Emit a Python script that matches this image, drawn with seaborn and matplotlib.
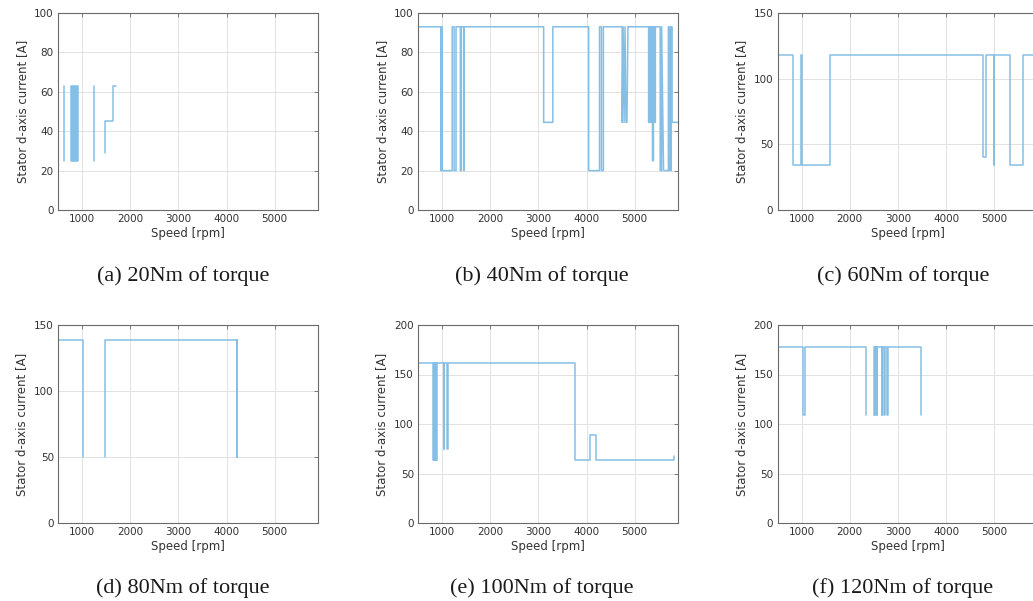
import numpy as np
import pandas as pd
import matplotlib
matplotlib.use("Agg")
import matplotlib.pyplot as plt
import seaborn as sns

nan = np.nan

# ---- data (speed [rpm], stator d-axis current [A]); NaN separates line pieces ----
speed_20 = [625, 625, nan,
            780, 780, 800, 800, 820, 820, 840, 840, 860, 860, 880, 880, 900, 900, 920, 920, nan,
            1245, 1245, nan,
            1480, 1480, 1650, 1650, 1700]
current_20 = [63, 25, nan,
              63, 25, 25, 63, 63, 25, 25, 63, 63, 25, 25, 63, 63, 25, 25, 63, nan,
              63, 25, nan,
              29, 45, 45, 63, 63]

speed_40 = [500, 975, 975, 990, 990, 1000, 1000, 1210, 1210, 1250, 1250, 1290, 1290,
            1380, 1380, 1400, 1400, 1450, 1450, 1460, 1460,
            3110, 3110, 3300, 3300, 4045, 4045, 4270, 4270, 4310, 4310, 4350, 4350,
            4740, 4740, 4760, 4780, 4800, 4820, 4840, 4860, 4876,
            5290, 5290, 5310, 5310, 5330, 5330, 5350, 5350, 5370, 5370, 5390, 5390, 5410, 5410, 5430, 5430,
            5530, 5530, 5560, 5560, 5600, 5700, 5700, 5730, 5730, 5760, 5760, 5777, 5777, 5900]
current_40 = [93, 93, 20, 20, 93, 93, 20, 20, 93, 93, 20, 20, 93,
              93, 20, 20, 93, 93, 20, 20, 93,
              93, 44.5, 44.5, 93, 93, 20, 20, 93, 93, 20, 20, 93,
              93, 44.5, 93, 44.5, 93, 44.5, 44.5, 93, 93,
              93, 44.5, 44.5, 93, 93, 44.5, 44.5, 93, 93, 25, 25, 93, 93, 44.5, 44.5, 93,
              93, 20, 20, 93, 20, 20, 93, 93, 20, 20, 93, 93, 44.5, 44.5]

speed_60 = [500, 830, 830, 990, 990, 1005, 1005, 1583, 1583,
            4770, 4770, 4840, 4840, 4995, 4995, 5005, 5005, 5320, 5320, 5600, 5600, 5900]
current_60 = [118, 118, 34, 34, 118, 118, 34, 34, 118,
              118, 40.6, 40.6, 118, 118, 34, 34, 118, 118, 34, 34, 118, 118]

speed_80 = [500, 1027, 1027, nan, 1476, 1476, 4210, 4210, 4220, 4220, 4225, 4225]
current_80 = [139, 139, 50, nan, 50, 139, 139, 50, 50, 139, 139, 50]

speed_100 = [500, 812, 812, 822, 822, 835, 835, 845, 845, 858, 858, 870, 870, 880, 880, 890, 890,
             1030, 1030, 1045, 1045, 1110, 1110, 1120, 1120,
             3770, 3770, 4063, 4063, 4188, 4188, 5822, 5822]
current_100 = [162, 162, 64, 64, 162, 162, 64, 64, 162, 162, 64, 64, 162, 162, 64, 64, 162,
               162, 75, 75, 162, 162, 75, 75, 162,
               162, 64, 64, 89, 89, 64, 64, 68]

speed_120 = [500, 1034, 1034, 1068, 1068, 2338, 2338, nan,
             2505, 2505, 2515, 2515, 2525, 2525, 2560, 2560, 2570, 2570, 2665, 2665, 2675, 2675,
             2715, 2715, 2725, 2725, 2780, 2780, 2790, 2790, 3470, 3470]
current_120 = [178, 178, 109, 109, 178, 178, 109, nan,
               109, 178, 178, 109, 109, 178, 178, 109, 109, 178, 178, 109, 109, 178,
               178, 109, 109, 178, 178, 109, 109, 178, 178, 109]

captions = ["(a) 20Nm of torque", "(b) 40Nm of torque", "(c) 60Nm of torque",
            "(d) 80Nm of torque", "(e) 100Nm of torque", "(f) 120Nm of torque"]
speeds = [speed_20, speed_40, speed_60, speed_80, speed_100, speed_120]
currents = [current_20, current_40, current_60, current_80, current_100, current_120]
y_max = [100, 100, 150, 150, 200, 200]
y_step = [20, 20, 50, 50, 50, 50]
x_ticks = [1000, 2000, 3000, 4000, 5000]

# ---- figure ----
sns.set_theme(style="white")
plt.rcParams['font.family'] = ['DejaVu Sans']
W, H = 1033, 601
fig = plt.figure(figsize=(W / 100, H / 100), dpi=100)

col_left = [58, 418, 777.5]
row_top = [13, 325]
row_bot = [210, 523]
ax_w = 260
cap_x = [183, 542, 903]
cap_y = [276, 588]

line_color = "#86bfe6"
for i in range(6):
    r, c = divmod(i, 3)
    left = col_left[c] / W
    bottom = 1 - row_bot[r] / H
    height = (row_bot[r] - row_top[r]) / H
    ax = fig.add_axes([left, bottom, ax_w / W, height])

    s = np.array(speeds[i], dtype=float)
    cur = np.array(currents[i], dtype=float)
    seg = np.cumsum(np.isnan(cur))
    df = pd.DataFrame({"speed": s, "current": cur, "seg": seg}).dropna()
    sns.lineplot(data=df, x="speed", y="current", units="seg", estimator=None,
                 sort=False, color=line_color, linewidth=1.1, ax=ax, legend=False)

    ax.set_xlim(500, 5900)
    ax.set_ylim(0, y_max[i])
    ax.set_xticks(x_ticks)
    ax.set_yticks(np.arange(0, y_max[i] + 1, y_step[i]))
    ax.grid(True, color="#e2e2e2", linewidth=0.7)
    ax.set_axisbelow(True)
    for sp in ax.spines.values():
        sp.set_color("#6a6a6a")
        sp.set_linewidth(0.8)
        sp.set_visible(True)
    ax.tick_params(direction="in", length=3, width=0.6, color="#6a6a6a",
                   top=True, right=True, labelsize=7.5, labelcolor="#333333", pad=3)
    ax.set_xlabel("Speed [rpm]", fontsize=8.5, color="#333333", labelpad=2)
    ax.set_ylabel("Stator d-axis current [A]", fontsize=8.5, color="#333333", labelpad=4)

    fig.text(cap_x[c] / W, 1 - cap_y[r] / H, captions[i], ha="center", va="center",
             fontsize=16, family="Liberation Serif", color="#1a1a1a")

fig.savefig("out.png", dpi=100)
